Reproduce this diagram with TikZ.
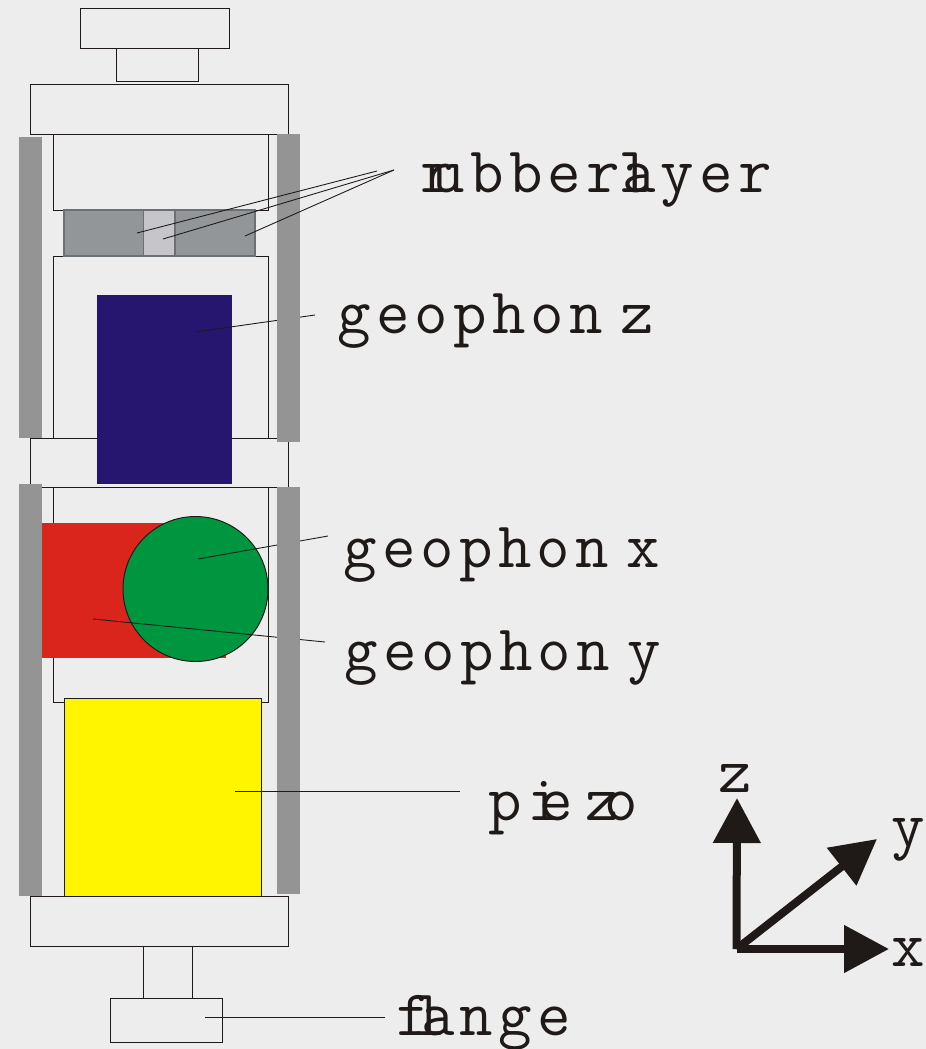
\documentclass[tikz,border=0pt]{standalone}
\usepackage{fontspec}
\usetikzlibrary{arrows.meta}
\newfontfamily\labelFont[LetterSpace=8]{Latin Modern Mono}
\newfontfamily\axisFont{Latin Modern Mono}
\definecolor{bgColor}{HTML}{EDEDED}
\definecolor{inkColor}{HTML}{1F1A17}
\definecolor{barColor}{HTML}{949494}
\definecolor{rubberColor}{HTML}{939699}
\definecolor{rubberEdge}{HTML}{6B7075}
\definecolor{gapColor}{HTML}{C6C6CA}
\definecolor{geoZColor}{HTML}{27166F}
\definecolor{geoYColor}{HTML}{DA251C}
\definecolor{geoXColor}{HTML}{009640}
\definecolor{piezoColor}{HTML}{FFF500}

\begin{document}
\begin{tikzpicture}[x=0.02cm,y=-0.02cm]

          \tikzstyle{partBox} = [draw=inkColor, line width=0.55pt];
          \tikzstyle{rubberBox} = [draw=rubberEdge, line width=0.6pt];
          \tikzstyle{leaderEdge} = [draw=inkColor, line width=0.5pt];
          \tikzstyle{axisEdge} = [draw=inkColor, line width=8*0.02cm, -{Triangle[length=0.9cm,width=0.92cm]}];
          \tikzstyle{labelNode} = [inkColor, inner sep=0pt, anchor=base west, font=\labelFont\fontsize{37}{37}\selectfont];
          \tikzstyle{axisNode} = [inkColor, inner sep=0pt, anchor=base, font=\axisFont\fontsize{37}{37}\selectfont];

          % page
          \fill[bgColor] (0,0) rectangle (926,1049);
          \useasboundingbox (0,0) rectangle (926,1049);

          % labels and leader ends
          \node[labelNode] (rubber) at (420,192) {r\kern-12.5pt ubber \kern-22.8pt l\kern-17pt ayer};
          \node[labelNode] (geoZ) at (337,333) {geophon \kern-12pt z};
          \node[labelNode] (geoX) at (343,567) {geophon \kern-12pt x};
          \node[labelNode] (geoY) at (344,670) {geophon \kern-12pt y};
          \node[labelNode] (piezo) at (488,820) {pi\kern-12pt e\kern7pt z\kern-8pt o};
          \node[labelNode] (flange) at (396,1035) {f\kern-10pt l\kern-14pt ange};

          \coordinate (rubberFrom) at (394,170);
          \coordinate (rubberStop) at (377,171);
          \coordinate (rubberLeft) at (137,233);
          \coordinate (rubberMid) at (163,239);
          \coordinate (rubberRight) at (245,236);
          \coordinate (geoZFrom) at (315,315);
          \coordinate (geoZTip) at (195,332);
          \coordinate (geoXFrom) at (328,536);
          \coordinate (geoXTip) at (198,559);
          \coordinate (geoYFrom) at (325,642);
          \coordinate (geoYTip) at (93,619);
          \coordinate (piezoFrom) at (460,791);
          \coordinate (piezoTip) at (235,791);
          \coordinate (flangeFrom) at (385,1017);
          \coordinate (flangeTip) at (205,1017);

          % housing
          \draw[partBox] (80.5,8.5) rectangle (229,48);
          \draw[partBox] (116.5,48) rectangle (198.5,81);
          \draw[partBox] (30.5,84.5) rectangle (288,134);
          \draw[partBox] (53.5,134) rectangle (268.5,210);
          \draw[partBox] (53.5,256) rectangle (268.5,438);
          \draw[partBox] (30.5,438) rectangle (288,487);
          \draw[partBox] (53.5,487) rectangle (268.5,702);
          \draw[partBox] (30.5,896) rectangle (288,946);
          \draw[partBox] (143,946) rectangle (192.5,998);
          \draw[partBox] (110,998) rectangle (222,1042);

          % rubber layer
          \draw[rubberBox, fill=rubberColor] (64,210) rectangle (143.5,256);
          \draw[rubberBox, fill=gapColor] (143.5,210) rectangle (175,256);
          \draw[rubberBox, fill=rubberColor] (175,210) rectangle (255,256);

          % sensors and piezo
          \fill[geoZColor] (96.5,295) rectangle (232,484);
          \fill[geoYColor] (42,523) rectangle (226,658);
          \draw[partBox, fill=geoXColor] (195.5,589) circle [radius=72.5];
          \draw[partBox, fill=piezoColor] (64,698.5) rectangle (261.5,896);

          % leaders under the side bars
          \draw[leaderEdge] (geoZFrom) -- (geoZTip);
          \draw[leaderEdge] (geoXFrom) -- (geoXTip);
          \draw[leaderEdge] (geoYFrom) -- (geoYTip);

          % side bars
          \fill[barColor] (19,137) rectangle (42,438);
          \fill[barColor] (277,134) rectangle (300,442);
          \fill[barColor] (19,484) rectangle (42,896);
          \fill[barColor] (277,487) rectangle (300,894);

          % leaders over the side bars
          \draw[leaderEdge] (rubberStop) -- (rubberLeft);
          \draw[leaderEdge] (rubberFrom) -- (rubberMid);
          \draw[leaderEdge] (rubberFrom) -- (rubberRight);
          \draw[leaderEdge] (piezoFrom) -- (piezoTip);
          \draw[leaderEdge] (flangeFrom) -- (flangeTip);

          % axes
          \coordinate (origin) at (736.5,949);
          \coordinate (axisX) at (889,949);
          \coordinate (axisY) at (877,839);
          \coordinate (axisZ) at (737,798);
          \draw[axisEdge] (origin) -- (axisZ);
          \draw[axisEdge] (origin) -- (axisX);
          \draw[axisEdge] (origin) -- (axisY);
          \node[axisNode] (labelZ) at (735,792) {z};
          \node[axisNode] (labelY) at (908,846) {y};
          \node[axisNode] (labelX) at (908,966) {x};
        \end{tikzpicture}
\end{document}
